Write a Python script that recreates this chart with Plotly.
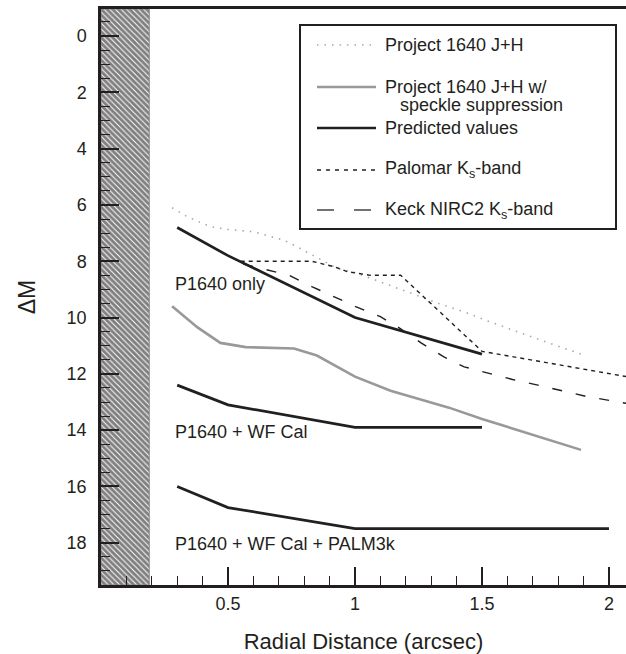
import plotly.graph_objects as go

# ---------------- data ----------------
dot_x = [0.28, 0.34, 0.43, 0.50, 0.60, 0.65, 0.72, 0.77, 0.82, 0.88, 0.93, 1.00, 1.10, 1.22, 1.33, 1.43, 1.53, 1.70, 1.89]
dot_y = [6.1, 6.42, 6.77, 6.87, 6.95, 7.07, 7.25, 7.48, 7.72, 8.0, 8.25, 8.4, 8.73, 9.13, 9.5, 9.8, 10.15, 10.7, 11.3]

spk_x = [0.28, 0.38, 0.47, 0.57, 0.76, 0.85, 1.00, 1.14, 1.37, 1.50, 1.89]
spk_y = [9.6, 10.35, 10.9, 11.05, 11.1, 11.35, 12.1, 12.6, 13.2, 13.6, 14.7]

pred1_x = [0.3, 0.5, 1.0, 1.5]
pred1_y = [6.8, 7.8, 10.0, 11.3]

pred2_x = [0.3, 0.5, 1.0, 1.5]
pred2_y = [12.4, 13.1, 13.9, 13.9]

pred3_x = [0.3, 0.5, 1.0, 2.0]
pred3_y = [16.0, 16.75, 17.5, 17.5]

pal_x = [0.55, 0.83, 0.92, 0.97, 1.06, 1.18, 1.50, 2.07]
pal_y = [8.0, 8.0, 8.2, 8.37, 8.5, 8.5, 11.2, 12.1]

keck_x = [0.56, 0.74, 0.83, 0.92, 1.00, 1.10, 1.18, 1.26, 1.35, 1.43, 1.53, 1.62, 1.72, 1.82, 1.91, 2.07]
keck_y = [8.1, 8.5, 8.9, 9.26, 9.6, 9.97, 10.4, 10.9, 11.4, 11.75, 12.0, 12.2, 12.4, 12.6, 12.8, 13.05]

label_text = ["P1640 only", "P1640 + WF Cal", "P1640 + WF Cal + PALM3k"]
label_x = [0.283, 0.283, 0.283]
label_y = [8.8, 14.05, 18.05]

x_tickvals = [0.5, 1, 1.5, 2]
x_ticktext = ["0.5", "1", "1.5", "2"]
y_tickvals = [0, 2, 4, 6, 8, 10, 12, 14, 16, 18]

inner_edge = 0.19          # hatched (occulted) region edge, arcsec
x_range = [0, 2.067]
y_range = [19.5, -0.96]

legend_names = ["Project 1640 J+H", "Project 1640 J+H w/", "Predicted values",
                "Palomar K<sub>s</sub>-band", "Keck NIRC2 K<sub>s</sub>-band"]

# ---------------- styling ----------------
BLACK = "#231f20"
GREY = "#999999"
LGREY = "#a8a8a8"
FONT = "Liberation Sans, Arial, sans-serif"

W, H = 626, 654
ML, MR, MT, MB = 101, 0, 9, 69
PW, PH = W - ML - MR, H - MT - MB


def px(xp):
    return (xp - ML) / PW


def py(yp):
    return (H - MB - yp) / PH


fig = go.Figure()

# hatched region
fig.add_trace(go.Scatter(
    x=[x_range[0], inner_edge, inner_edge, x_range[0], x_range[0]],
    y=[y_range[0], y_range[0], y_range[1], y_range[1], y_range[0]],
    mode="lines", fill="toself",
    fillcolor="white",
    fillpattern=dict(shape="\\", fgcolor="#000000", bgcolor="#ffffff", size=4, solidity=0.75),
    line=dict(color="#888888", width=1), hoverinfo="skip", showlegend=False))

fig.add_trace(go.Scatter(x=dot_x, y=dot_y, mode="lines",
                         line=dict(color=LGREY, width=1.6, dash="1.5px,6px"), showlegend=False))
fig.add_trace(go.Scatter(x=spk_x, y=spk_y, mode="lines",
                         line=dict(color=GREY, width=2.6), showlegend=False))
fig.add_trace(go.Scatter(x=pal_x, y=pal_y, mode="lines",
                         line=dict(color=BLACK, width=1.4, dash="4px,4px"), showlegend=False))
fig.add_trace(go.Scatter(x=keck_x, y=keck_y, mode="lines",
                         line=dict(color=BLACK, width=1.4, dash="10px,14px"), showlegend=False))
for xs, ys in [(pred1_x, pred1_y), (pred2_x, pred2_y), (pred3_x, pred3_y)]:
    fig.add_trace(go.Scatter(x=xs, y=ys, mode="lines",
                             line=dict(color=BLACK, width=2.7), showlegend=False))

annotations = []
for t, xx, yy in zip(label_text, label_x, label_y):
    annotations.append(dict(x=xx, y=yy, xref="x", yref="y", text=t, showarrow=False,
                            xanchor="left", yanchor="middle",
                            font=dict(size=18, color=BLACK, family=FONT)))

# manual legend
shapes = [dict(type="rect", xref="paper", yref="paper",
               x0=px(300), x1=px(616), y0=py(229), y1=py(25),
               line=dict(color=BLACK, width=2), fillcolor="white", layer="above")]
rows_y = [45, 87, 128, 170, 210]
sample_styles = [
    dict(color=LGREY, width=1.6, dash="1.5px,6px"),
    dict(color=GREY, width=2.6),
    dict(color=BLACK, width=2.7),
    dict(color=BLACK, width=1.4, dash="4px,5px"),
    dict(color="#444444", width=1.6, dash="17px,20px"),
]
for ry, st, name in zip(rows_y, sample_styles, legend_names):
    shapes.append(dict(type="line", xref="paper", yref="paper",
                       x0=px(317), x1=px(376), y0=py(ry), y1=py(ry), line=st, layer="above"))
    annotations.append(dict(x=px(383), y=py(ry), xref="paper", yref="paper", text=name,
                            showarrow=False, xanchor="left", yanchor="middle",
                            font=dict(size=18, color=BLACK, family=FONT)))
annotations.append(dict(x=px(398), y=py(105), xref="paper", yref="paper",
                        text="speckle suppression", showarrow=False,
                        xanchor="left", yanchor="middle",
                        font=dict(size=18, color=BLACK, family=FONT)))

fig.update_layout(
    width=W, height=H,
    margin=dict(l=ML, r=MR, t=MT, b=MB),
    paper_bgcolor="white", plot_bgcolor="white",
    font=dict(family=FONT, color=BLACK, size=18),
    showlegend=False,
    shapes=shapes, annotations=annotations,
    xaxis=dict(range=x_range, tickvals=x_tickvals, ticktext=x_ticktext,
               ticks="inside", ticklen=18, tickwidth=1.5, tickcolor=BLACK,
               minor=dict(dtick=0.1, tick0=0, ticks="inside", ticklen=9, tickwidth=1.2, tickcolor=BLACK),
               showline=True, linecolor=BLACK, linewidth=2.5, mirror=True,
               showgrid=False, zeroline=False, ticklabelstandoff=1,
               tickfont=dict(size=18, color=BLACK),
               title=dict(text="Radial Distance (arcsec)", font=dict(size=22, color=BLACK), standoff=24)),
    yaxis=dict(range=y_range, tickvals=y_tickvals,
               ticks="inside", ticklen=18, tickwidth=1.5, tickcolor=BLACK,
               minor=dict(dtick=0.5, tick0=0, ticks="inside", ticklen=9, tickwidth=1.2, tickcolor=BLACK),
               showline=True, linecolor=BLACK, linewidth=2.5, mirror=False,
               showgrid=False, zeroline=False, ticklabelstandoff=8,
               tickfont=dict(size=18, color=BLACK),
               title=dict(text="ΔM", font=dict(size=23, color=BLACK), standoff=25)),
)

fig.write_html("out.html")
